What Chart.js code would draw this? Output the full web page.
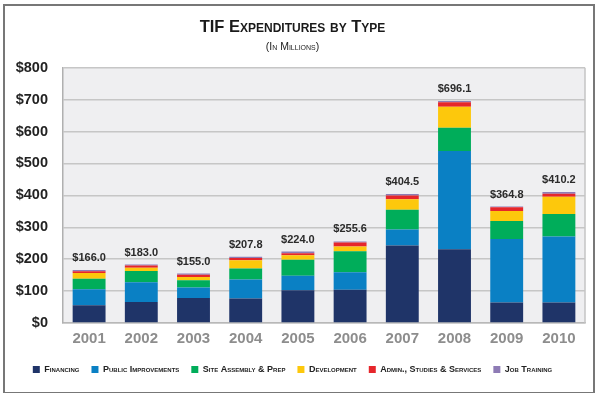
<!DOCTYPE html>
<html>
<head>
<meta charset="utf-8">
<script src="https://cdn.jsdelivr.net/npm/chart.js@4.4.1/dist/chart.umd.min.js"></script>
<style>
  html, body { margin: 0; padding: 0; background: #ffffff; }
  #wrap { position: relative; width: 600px; height: 393px; }
</style>
</head>
<body>
<div id="wrap"><canvas id="c" width="600" height="393"></canvas></div>
<script>
// ---- Data (in $ millions) ----
const years = ['2001','2002','2003','2004','2005','2006','2007','2008','2009','2010'];
const financing          = [56, 66, 78, 77, 103, 104, 243, 231, 64, 64];
const publicImprovements = [50, 62, 33, 59, 45, 55, 50, 308, 199, 207];
const siteAssembly       = [33, 35, 23, 35, 50, 66, 62, 73, 57, 71];
const development        = [18, 10, 10, 26, 14, 15, 33, 66, 31, 54];
const adminServices      = [5, 7, 7, 7, 7, 12, 12, 14, 12, 9];
const jobTraining        = [4, 3, 4, 3.8, 5, 3.6, 4.5, 4.1, 1.8, 5.2];
const totals             = [166.0, 183.0, 155.0, 207.8, 224.0, 255.6, 404.5, 696.1, 364.8, 410.2];
const yTicks             = [0, 100, 200, 300, 400, 500, 600, 700, 800];

const SANS = '"Liberation Sans", Arial, sans-serif';

const framePlugin = {
  id: 'frame',
  beforeDraw(chart) {
    const ctx = chart.ctx, a = chart.chartArea;
    ctx.save();
    ctx.fillStyle = '#ffffff';
    ctx.fillRect(0, 0, chart.width, chart.height);
    ctx.fillStyle = '#efeff1';
    ctx.fillRect(a.left, a.top, a.right - a.left, a.bottom - a.top);
    ctx.restore();
  },
  afterDraw(chart) {
    const ctx = chart.ctx, a = chart.chartArea;
    ctx.save();
    ctx.strokeStyle = '#c4c4c4';
    ctx.lineWidth = 1.5;
    ctx.beginPath();
    ctx.moveTo(a.right, a.top); ctx.lineTo(a.right, a.bottom);
    ctx.stroke();
    ctx.strokeStyle = '#777777';
    ctx.lineWidth = 2;
    ctx.strokeRect(4, 5, 590, 388);
    ctx.restore();
  }
};

const totalsPlugin = {
  id: 'totals',
  afterDatasetsDraw(chart) {
    const ctx = chart.ctx;
    const last = chart.getDatasetMeta(chart.data.datasets.length - 1);
    ctx.save();
    ctx.font = 'bold 11px ' + SANS;
    ctx.fillStyle = '#2b2b2b';
    ctx.textAlign = 'center';
    ctx.textBaseline = 'alphabetic';
    last.data.forEach((bar, i) => {
      const y = chart.scales.y.getPixelForValue(totals[i]);
      ctx.fillText('$' + totals[i].toFixed(1), bar.x, y - 9);
    });
    ctx.restore();
  }
};

const mk = (label, data, color) => ({
  label, data, backgroundColor: color, borderWidth: 0,
  barPercentage: 0.63, categoryPercentage: 1.0
});

new Chart(document.getElementById('c'), {
  type: 'bar',
  data: {
    labels: years,
    datasets: [
      mk('Financing', financing, '#1f3468'),
      mk('Public Improvements', publicImprovements, '#0a80c4'),
      mk('Site Assembly & Prep', siteAssembly, '#00ad5a'),
      mk('Development', development, '#fdc80c'),
      mk('Admin., Studies & Services', adminServices, '#e6262b'),
      mk('Job Training', jobTraining, '#8e7bb5')
    ]
  },
  options: {
    responsive: false,
    animation: false,
    devicePixelRatio: 1,
    layout: { padding: { left: 0, right: 15, top: 0, bottom: 9 } },
    plugins: {
      title: {
        display: true,
        text: 'TIF Expenditures by Type',
        color: '#1a1a1a',
        font: { family: SANS, size: 16.5, weight: 'small-caps bold', lineHeight: 1 },
        padding: { top: 18.75, bottom: 0 }
      },
      subtitle: {
        display: true,
        text: '(In Millions)',
        color: '#222222',
        font: { family: SANS, size: 10.5, weight: 'small-caps normal', lineHeight: 1 },
        padding: { top: 6.5, bottom: 15.5 }
      },
      legend: {
        position: 'bottom',
        labels: {
          boxWidth: 7, boxHeight: 7, padding: 12,
          color: '#222222',
          font: { family: SANS, size: 9, weight: 'small-caps bold' }
        }
      },
      tooltip: { enabled: false }
    },
    scales: {
      x: {
        stacked: true,
        grid: { display: false, drawTicks: false },
        border: { display: true, color: '#b8b8b8', width: 1.5 },
        ticks: { color: '#8d8d8d', padding: 7, font: { family: SANS, size: 15, weight: 'bold' } },
        afterFit(s) { s.height = 30; }
      },
      y: {
        stacked: true,
        min: 0, max: 800,
        afterBuildTicks(s) { s.ticks = yTicks.map(v => ({ value: v })); },
        grid: { color: '#c6c6c6', lineWidth: 1.5, drawTicks: false },
        border: { display: true, color: '#b0b0b0', width: 1.5 },
        ticks: {
          color: '#222222', padding: 15,
          font: { family: SANS, size: 14.5, weight: 'bold' },
          callback: v => '$' + v
        },
        afterFit(s) { s.width = 63; }
      }
    }
  },
  plugins: [framePlugin, totalsPlugin]
});
</script>
</body>
</html>
